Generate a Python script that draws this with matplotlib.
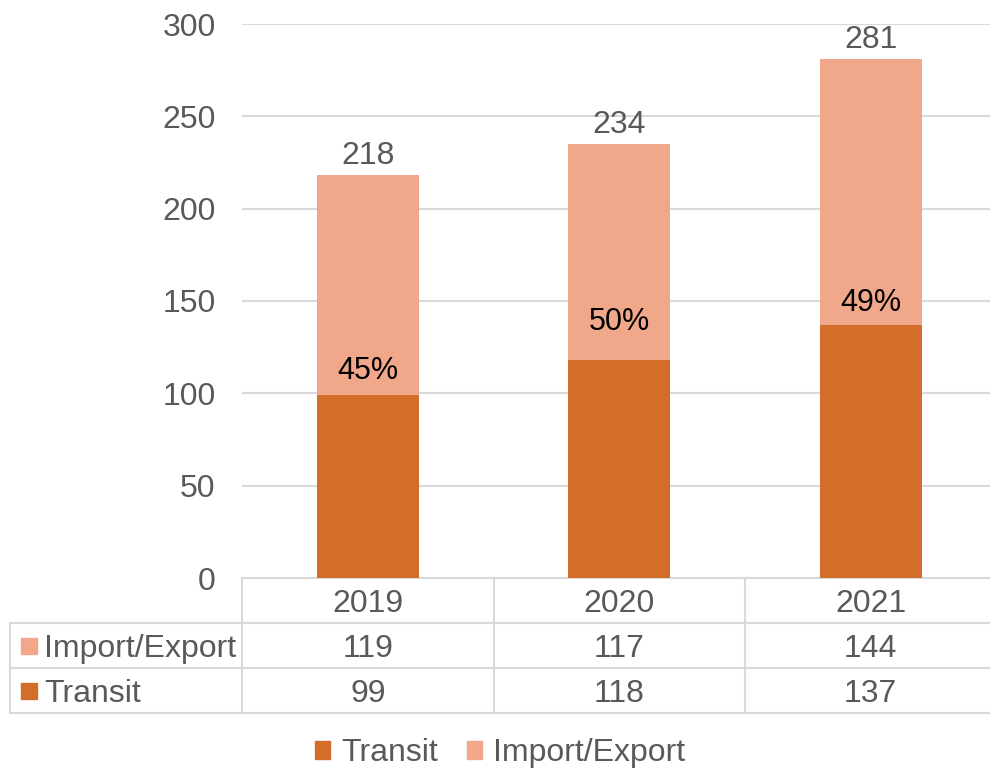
import numpy as np
import matplotlib.pyplot as plt
from matplotlib.transforms import blended_transform_factory
from matplotlib.patches import Patch

plt.rcParams['font.family'] = ['Liberation Sans', 'DejaVu Sans']

# data
years = ['2019', '2020', '2021']
transit = [99, 118, 137]
import_export = [119, 117, 144]
totals = [218, 234, 281]  # as printed on the chart (rounded source values)
pct_offsets = [26, 40, 24]  # label lift above transit top, in px

shares = [round(t / s * 100) for t, s in zip(transit, totals)]

c_transit = '#D36E2A'
c_imp = '#F1A88A'
txt_col = '#595959'
grid_col = '#D9D9D9'
fs = 23

fig = plt.figure(figsize=(9.9, 7.69), dpi=100)
ax = fig.add_axes([242 / 990, 1 - 578 / 769, 754.5 / 990, 554 / 769])

x = np.arange(len(years))
ax.bar(x, transit, width=0.405, color=c_transit, zorder=3)
ax.bar(x, import_export, width=0.405, bottom=transit, color=c_imp, zorder=3)

ax.set_xlim(-0.5, 2.5)
ax.set_ylim(0, 300)
ax.set_yticks(np.arange(0, 301, 50))
ax.set_xticks([])
ax.tick_params(axis='y', length=0, pad=19, labelsize=fs, labelcolor=txt_col)
ax.grid(axis='y', color=grid_col, linewidth=1.5, zorder=0)
for s in ax.spines.values():
    s.set_visible(False)

# totals on top
for xi, t, i, tot in zip(x, transit, import_export, totals):
    ax.annotate(str(tot), (xi, t + i), xytext=(0, 3), textcoords='offset points',
                ha='center', va='bottom', fontsize=fs, color=txt_col)

# transit share labels
for xi, t, sh, off in zip(x, transit, shares, pct_offsets):
    ax.annotate(f'{sh}%', (xi, t), xytext=(0, (off - 2) * 0.72), textcoords='offset points',
                ha='center', va='center', fontsize=22, color='black')

# data table below the plot
tr = blended_transform_factory(ax.transData, ax.transAxes)
row_h = 45 / 554
dy = 3.5 / 554
left = -0.5 - 232 / 251.5
bounds = [-0.5, 0.5, 1.5, 2.5]
lw = 1.5
ax.plot([-0.5, 2.5], [0, 0], color=grid_col, lw=lw, transform=tr, clip_on=False)
for k in (1, 2, 3):
    ax.plot([left, 2.5], [-k * row_h] * 2, color=grid_col, lw=lw, transform=tr, clip_on=False)
for b in bounds:
    ax.plot([b, b], [0, -3 * row_h], color=grid_col, lw=lw, transform=tr, clip_on=False)
ax.plot([left, left], [-row_h, -3 * row_h], color=grid_col, lw=lw, transform=tr, clip_on=False)

for xi, yr in zip(x, years):
    ax.text(xi, -0.5 * row_h - dy, yr, transform=tr, ha='center', va='center',
            fontsize=fs, color=txt_col)

rows = [('Import/Export', import_export, c_imp), ('Transit', transit, c_transit)]
for r, (name, vals, col) in enumerate(rows):
    yc = -(r + 1.5) * row_h
    ax.plot([left + 19 / 251.5], [yc], marker='s', ms=11.5, color=col,
            transform=tr, clip_on=False, linestyle='none')
    ax.text(left + 34 / 251.5, yc - dy, name, transform=tr, ha='left', va='center',
            fontsize=fs, color=txt_col)
    for xi, v in zip(x, vals):
        ax.text(xi, yc - dy, str(v), transform=tr, ha='center', va='center',
                fontsize=fs, color=txt_col)

handles = [Patch(color=c_transit, label='Transit'), Patch(color=c_imp, label='Import/Export')]
leg = fig.legend(handles=handles, loc='center', bbox_to_anchor=(500 / 990, 1 - 753 / 769),
                 ncol=2, frameon=False, fontsize=fs, handlelength=0.48, handleheight=0.48,
                 handletextpad=0.35, columnspacing=0.9, labelcolor=txt_col)

fig.savefig('out.png', dpi=100)
